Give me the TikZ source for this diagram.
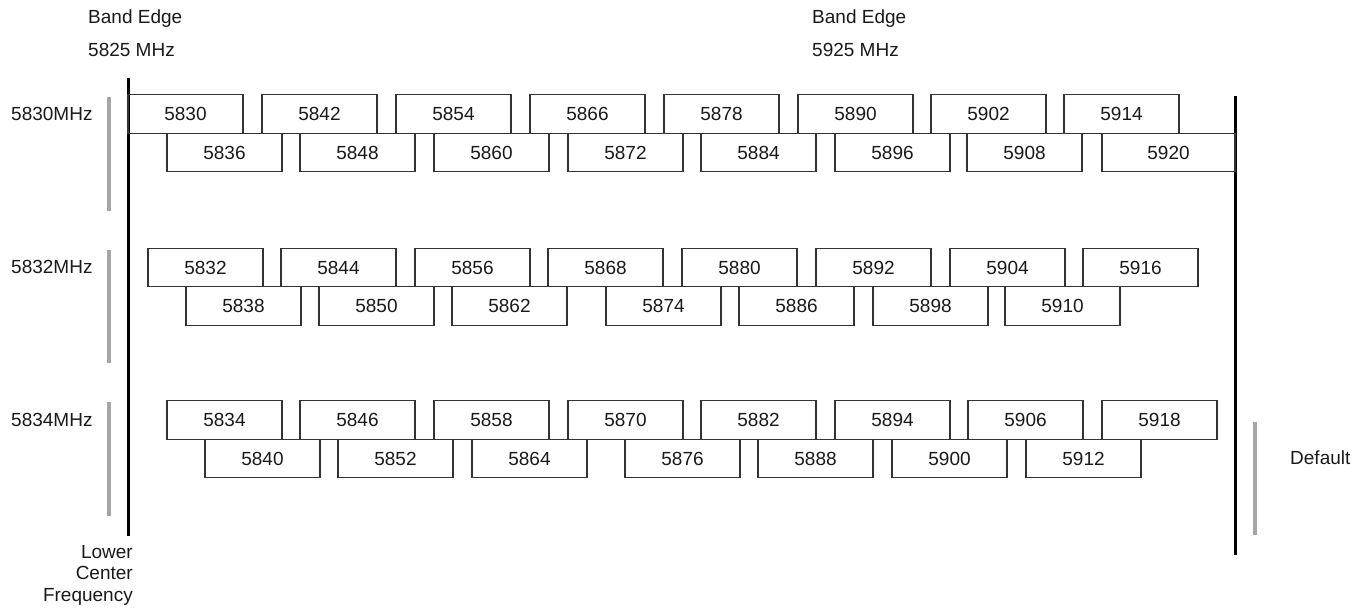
\documentclass[tikz,border=0pt]{standalone}
\usepackage{fontspec}
\setmainfont{Liberation Sans}
\definecolor{boxline}{RGB}{51,51,51}
\definecolor{bargray}{RGB}{165,165,165}
\newcommand{\chanfont}{\fontsize{19}{21.5}\selectfont}
\tikzset{
  chanbox/.style={draw=boxline, line width=1.3pt,
    minimum width=115pt, minimum height=38.5pt,
    inner sep=0pt, font=\chanfont, text=black!90},
  edgeline/.style={line width=3pt, black},
  grayline/.style={line width=3.5pt, bargray},
  lbl/.style={inner sep=0pt, font=\chanfont, text=black!90},
}

\begin{document}
\begin{tikzpicture}[x=1pt, y=-1pt]
  \useasboundingbox (0,0) rectangle (1369,609);

  % band edges
  \draw[edgeline] (128,78) -- (128,536);
  \draw[edgeline] (1235,96) -- (1235,555);
  \node[lbl, anchor=base west] (edgelo) at (88,24) {Band Edge};
  \node[lbl, anchor=base west] (freqlo) at (88,57) {5825 MHz};
  \node[lbl, anchor=base west] (edgehi) at (812,24) {Band Edge};
  \node[lbl, anchor=base west] (freqhi) at (812,57) {5925 MHz};
  \node[lbl, anchor=north east, align=right] (lower) at (133,545)
    {Lower\\Center\\Frequency};

  % start offsets
  \draw[grayline] (109,97) -- (109,211);
  \draw[grayline] (109,250) -- (109,363);
  \draw[grayline] (109,402) -- (109,516);
  \draw[grayline] (1255,422) -- (1255,535);
  \node[lbl, anchor=base west] (off30) at (11,121) {5830MHz};
  \node[lbl, anchor=base west] (off32) at (11,274) {5832MHz};
  \node[lbl, anchor=base west] (off34) at (11,427) {5834MHz};
  \node[lbl, anchor=base west] (default) at (1290,465) {Default};

  % 5830MHz plan
  \foreach \x/\f in {128/5830,262/5842,396/5854,530/5866,
                     664/5878,798/5890,931/5902,1064/5914}
    \node[chanbox] (c\f) at (\x+57.5,114) {\f};
  \foreach \x/\f in {167/5836,300/5848,434/5860,568/5872,
                     701/5884,835/5896,967/5908}
    \node[chanbox] (c\f) at (\x+57.5,152.5) {\f};
  \node[chanbox, minimum width=133pt] (c5920) at (1168.5,152.5) {5920};

  % 5832MHz plan
  \foreach \x/\f in {148/5832,281/5844,415/5856,548/5868,
                     682/5880,816/5892,950/5904,1083/5916}
    \node[chanbox] (c\f) at (\x+57.5,267.5) {\f};
  \foreach \x/\f in {186/5838,319/5850,452/5862,606/5874,
                     739/5886,873/5898,1005/5910}
    \node[chanbox] (c\f) at (\x+57.5,306) {\f};

  % 5834MHz plan
  \foreach \x/\f in {167/5834,300/5846,434/5858,568/5870,
                     701/5882,835/5894,968/5906,1102/5918}
    \node[chanbox] (c\f) at (\x+57.5,420) {\f};
  \foreach \x/\f in {205/5840,338/5852,472/5864,625/5876,
                     758/5888,892/5900,1026/5912}
    \node[chanbox] (c\f) at (\x+57.5,458.5) {\f};
\end{tikzpicture}
\end{document}
